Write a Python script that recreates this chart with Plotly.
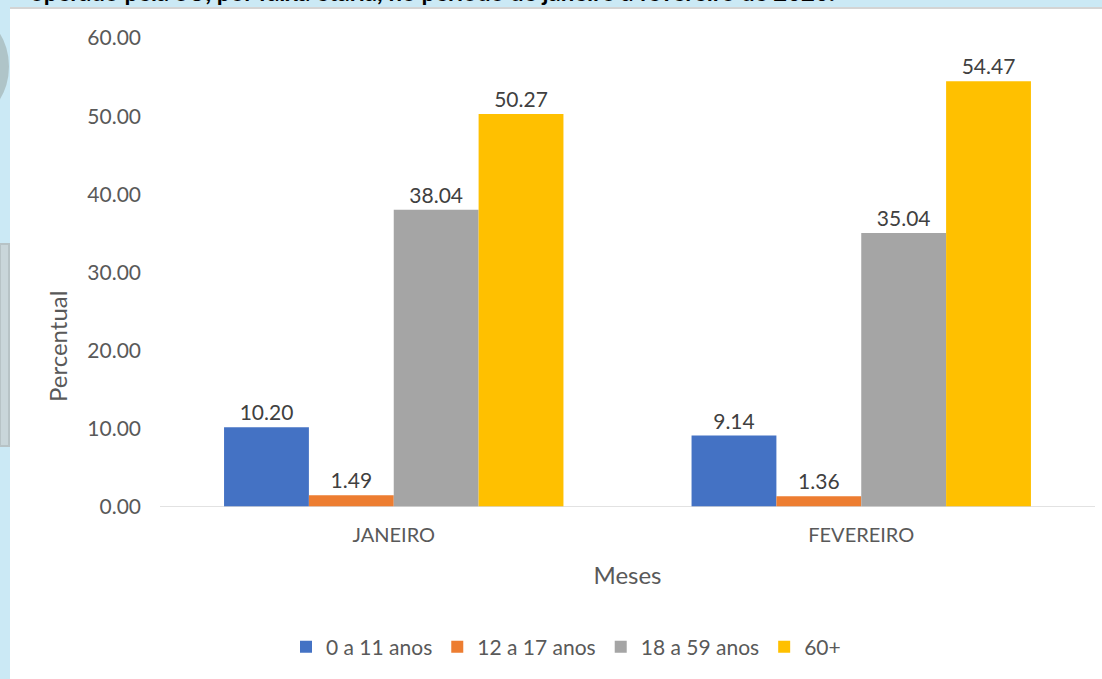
import plotly.graph_objects as go

months = ["JANEIRO", "FEVEREIRO"]
series_names = ["0 a 11 anos", "12 a 17 anos", "18 a 59 anos", "60+"]
v_0_11 = [10.20, 9.14]
v_12_17 = [1.49, 1.36]
v_18_59 = [38.04, 35.04]
v_60 = [50.27, 54.47]
colors = ["#4472C4", "#ED7D31", "#A5A5A5", "#FFC000"]
y_ticks = [0, 10, 20, 30, 40, 50, 60]
title_text = "operado pela SU, por faixa etária, no período de janeiro a fevereiro de 2020."

W, H = 1102, 679
L, R, T, B = 160, 7, 38, 172
pw, ph = W - L - R, H - T - B


def px2x(px):
    return (px - L) / pw


def py2y(py):
    return (H - B - py) / ph


FONT = "Lato, Open Sans, sans-serif"

fig = go.Figure()
for name, vals, col in zip(series_names, [v_0_11, v_12_17, v_18_59, v_60], colors):
    fig.add_trace(go.Bar(
        x=months, y=vals, name=name, marker=dict(color=col, line=dict(width=0)),
        text=[f"{v:.2f}" for v in vals], textposition="outside",
        textfont=dict(family=FONT, size=21, color="#404040"), cliponaxis=False,
    ))

shapes = [
    dict(type="rect", xref="paper", yref="paper", x0=px2x(10), x1=px2x(1102),
         y0=py2y(679), y1=py2y(8), fillcolor="white", line=dict(width=0), layer="below"),
    dict(type="line", xref="paper", yref="paper", x0=px2x(10), x1=px2x(1102),
         y0=py2y(8), y1=py2y(8), line=dict(color="#D4D4D4", width=2), layer="below"),
    dict(type="circle", xref="paper", yref="paper", x0=px2x(-60), x1=px2x(9),
         y0=py2y(115), y1=py2y(18), fillcolor="#AFC4C8", line=dict(width=0), layer="below"),
    dict(type="rect", xref="paper", yref="paper", x0=px2x(0), x1=px2x(9),
         y0=py2y(446), y1=py2y(244), fillcolor="#C9D6DA", line=dict(color="#B7C3C6", width=2), layer="below"),
    dict(type="line", xref="paper", yref="y", x0=0, x1=1, y0=0, y1=0,
         line=dict(color="#D9D9D9", width=1.5)),
]

fig.update_layout(
    width=W, height=H,
    margin=dict(l=L, r=R, t=T, b=B),
    paper_bgcolor="#CBE9F5",
    plot_bgcolor="rgba(0,0,0,0)",
    barmode="group", bargap=0.274, bargroupgap=0,
    font=dict(family=FONT, size=21, color="#595959"),
    xaxis=dict(showgrid=False, showline=False, ticks="", zeroline=False,
               tickfont=dict(size=20, color="#595959"), ticklabelstandoff=14,
               title=dict(text="Meses", font=dict(size=24, color="#595959"), standoff=22)),
    yaxis=dict(range=[0, 60], tickvals=y_ticks, ticktext=[f"{v:.2f}" for v in y_ticks],
               showgrid=False, zeroline=False, showline=False, ticks="",
               tickfont=dict(size=21, color="#595959"), ticklabelstandoff=18),
    legend=dict(orientation="h", x=px2x(566), xanchor="center", y=py2y(647), yanchor="middle",
                font=dict(size=21, color="#595959"), itemwidth=30, traceorder="normal",
                bgcolor="rgba(0,0,0,0)"),
    shapes=shapes,
    annotations=[
        dict(text="<b>" + title_text + "</b>", xref="paper", yref="paper",
             x=px2x(28), y=py2y(-8), xanchor="left", yanchor="middle",
             showarrow=False, font=dict(family=FONT, size=24, color="black")),
        dict(text="Percentual", xref="paper", yref="paper", textangle=-90,
             x=px2x(57), y=py2y(347), xanchor="center", yanchor="middle",
             showarrow=False, font=dict(family=FONT, size=24, color="#595959")),
    ],
    showlegend=True,
)

fig.write_html("out.html", post_script="document.body.style.margin='0';",
               config={"displayModeBar": False})
